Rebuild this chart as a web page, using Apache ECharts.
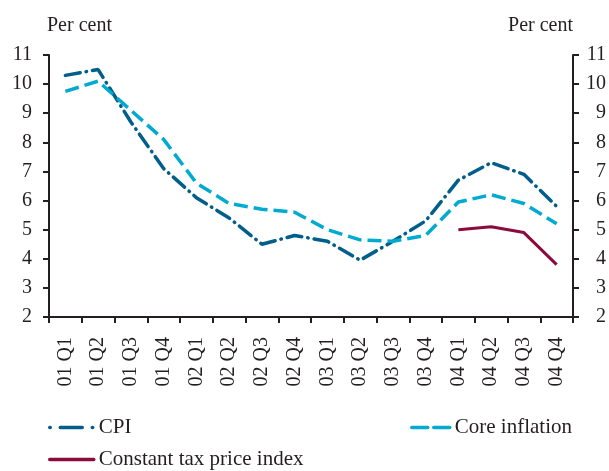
<!DOCTYPE html>
<html>
<head>
<meta charset="utf-8">
<script src="https://cdn.jsdelivr.net/npm/echarts@6/dist/echarts.min.js"></script>
<style>
  html, body { margin: 0; padding: 0; background: #fff; }
  #main { width: 609px; height: 471px; }
</style>
</head>
<body>
<div id="main"></div>
<script>
var myChart = echarts.init(document.getElementById('main'));

const quarters = ['01 Q1', '01 Q2', '01 Q3', '01 Q4', '02 Q1', '02 Q2', '02 Q3', '02 Q4',
    '03 Q1', '03 Q2', '03 Q3', '03 Q4', '04 Q1', '04 Q2', '04 Q3', '04 Q4']
const cpi = [10.3, 10.5, 8.7, 7.1, 6.1, 5.4, 4.5, 4.8, 4.6, 3.95, 4.6, 5.3, 6.7, 7.3, 6.9, 5.8]
const coreInflation = [9.75, 10.1, 9.1, 8.1, 6.6, 5.9, 5.7, 5.6, 5.0, 4.65, 4.6, 4.8, 5.95, 6.2, 5.9, 5.2]
const constantTax = [null, null, null, null, null, null, null, null,
    null, null, null, null, 5.0, 5.1, 4.9, 3.8]

const ink = '#231f20'
const serif = 'Liberation Serif'

function yAxisFor(side) {
    return {
        type: 'value',
        position: side,
        min: 2,
        max: 11,
        interval: 1,
        name: 'Per cent',
        nameLocation: 'end',
        nameGap: 19,
        nameTextStyle: {
            color: ink, fontFamily: serif, fontSize: 20,
            align: side === 'left' ? 'left' : 'right', verticalAlign: 'bottom',
            padding: side === 'left' ? [0, 0, 0, -2] : 0
        },
        axisLine: { show: true, lineStyle: { color: ink, width: 2 } },
        axisTick: { show: true, length: 6, lineStyle: { color: ink, width: 2 } },
        axisLabel: {
            color: ink, fontFamily: serif, fontSize: 20,
            margin: side === 'left' ? 17 : 33,
            align: 'right'
        },
        splitLine: { show: false }
    }
}

// legend swatches: line only, no marker
function legendFor(name, pos, top, width, dash) {
    return Object.assign({
        data: [name], top: top, padding: 0,
        itemWidth: width, itemHeight: 14, itemGap: 0,
        itemStyle: { opacity: 0 },
        lineStyle: { type: dash, width: 3.5, cap: 'round' },
        textStyle: { color: ink, fontFamily: serif, fontSize: 21 }
    }, pos)
}

option = {
    animation: false,
    grid: { left: 49, right: 36, top: 55, bottom: 154 },
    legend: [
        legendFor('CPI', { left: 48 }, 417, 44, [0.5, 10, 22, 10, 0.5, 20]),
        legendFor('Core inflation', { right: 37 }, 417, 38, [16, 6]),
        legendFor('Constant tax price index', { left: 48 }, 449, 44, 'solid')
    ],
    xAxis: {
        type: 'category',
        data: quarters,
        boundaryGap: true,
        axisLine: { lineStyle: { color: ink, width: 2 } },
        axisTick: { show: true, length: 6, interval: 0, lineStyle: { color: ink, width: 2 } },
        axisLabel: {
            interval: 0, rotate: 90, margin: 20,
            color: ink, fontFamily: serif, fontSize: 20
        }
    },
    yAxis: [yAxisFor('left'), yAxisFor('right')],
    series: [
        {
            name: 'CPI',
            type: 'line',
            data: cpi,
            symbol: 'none',
            color: '#005e8a',
            lineStyle: { width: 3.5, type: [15, 6, 0.5, 6], cap: 'round' }
        },
        {
            name: 'Core inflation',
            type: 'line',
            data: coreInflation,
            symbol: 'none',
            color: '#00aad0',
            lineStyle: { width: 3.5, type: [14, 6] }
        },
        {
            name: 'Constant tax price index',
            type: 'line',
            data: constantTax,
            symbol: 'none',
            color: '#8c0b3d',
            lineStyle: { width: 3 }
        }
    ]
};

myChart.setOption(option);
</script>
</body>
</html>
